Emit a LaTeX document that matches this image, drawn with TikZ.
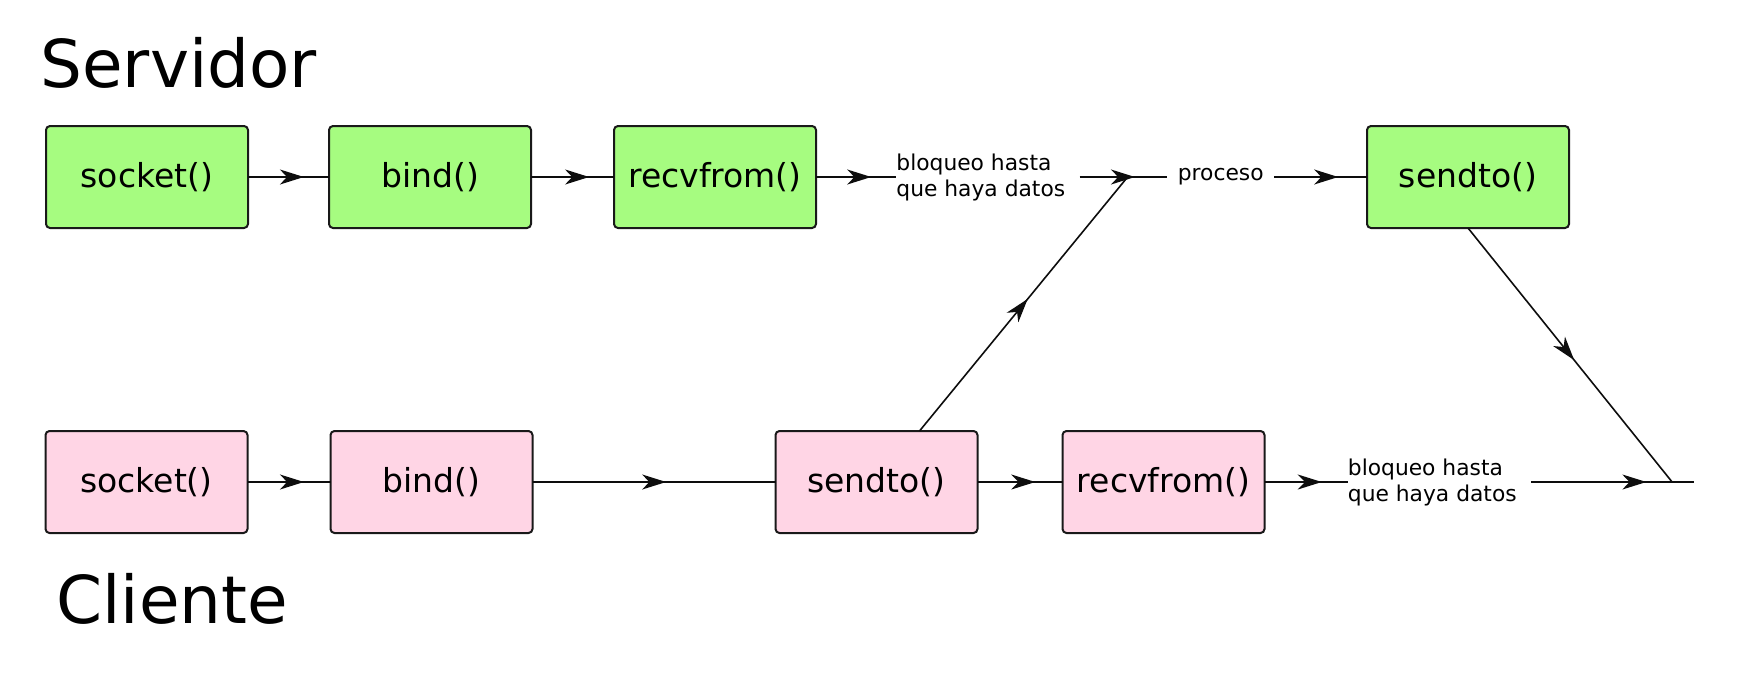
\documentclass[tikz,border=0pt]{standalone}
\usepackage{fontspec}
\setmainfont{DejaVu Sans}
\usetikzlibrary{positioning,arrows.meta,decorations.markings}

\definecolor{srvgreen}{RGB}{166,252,128}
\definecolor{clipink}{RGB}{255,213,229}

\tikzset{
  call/.style={draw=black!90, line width=1pt, rounded corners=2pt,
    minimum width=101pt, minimum height=51pt, inner sep=0pt, outer sep=0pt,
    font=\fontsize{16.5pt}{19pt}\selectfont},
  srv/.style={call, fill=srvgreen},
  cli/.style={call, fill=clipink},
  wait/.style={align=left, inner sep=0pt, font=\fontsize{10.9pt}{13pt}\selectfont},
  side/.style={inner sep=0pt, anchor=base west, font=\fontsize{33pt}{40pt}\selectfont},
  flow/.style={draw=black!95, line width=0.8pt, postaction={decorate},
    decoration={markings, mark=at position #1 with
      {\arrow{Stealth[length=12pt,width=7.5pt,inset=3.6pt]}}}},
  flow/.default=0.69
}

\begin{document}
\begin{tikzpicture}[x=0.5pt, y=-0.5pt]
	  \useasboundingbox (0,0) rectangle (1739,686);
	  \node[side] (srv_lbl) at (40,87) {Servidor} ; %
	  \node[side] (cli_lbl) at (56,623) {Cliente} ; %

	  % servidor
	  \node[srv] (s_sock) at (147,177) {socket()};
	  \node[srv, right=40.5pt of s_sock] (s_bind) {bind()};
	  \node[srv, right=41.5pt of s_bind] (s_recv) {recvfrom()};
	  \node[wait, right=40pt of s_recv] (s_wait) {bloqueo hasta\\que haya datos};
	  \node[srv, right=275.5pt of s_recv] (s_send) {sendto()};
	  \node[wait, inner xsep=5pt, left=46.5pt of s_send] (s_proc) {proceso};
	  \coordinate[right=31pt of s_wait.east] (s_join);

	  % cliente
	  \node[cli] (c_sock) at (146.5,482) {socket()};
	  \node[cli, right=41.5pt of c_sock] (c_bind) {bind()};
	  \node[cli, right=121.5pt of c_bind] (c_send) {sendto()};
	  \node[cli, right=42.5pt of c_send] (c_recv) {recvfrom()};
	  \node[wait, right=41.5pt of c_recv] (c_wait) {bloqueo hasta\\que haya datos};
	  \coordinate[right=77.5pt of c_wait.east] (c_join);
	  \coordinate[right=11pt of c_join] (c_end);

	  \draw[flow] (s_sock) -- (s_bind);
	  \draw[flow=0.7] (s_bind) -- (s_recv);
	  \draw[flow] (s_recv) -- (s_wait);
	  \draw[flow=0.63] ([xshift=7pt]s_wait.east) -- (s_proc);
	  \draw[flow] (s_proc) -- (s_send);

	  \draw[flow=0.68] (c_sock) -- (c_bind);
	  \draw[flow=0.55] (c_bind) -- (c_send);
	  \draw[flow=0.68] (c_send) -- (c_recv);
	  \draw[flow] (c_recv) -- (c_wait);
	  \draw[flow=0.707] ([xshift=7pt]c_wait.east) -- (c_end);

	  \draw[flow=0.52] ([xshift=21.5pt]c_send.north) -- (s_join);
	  \draw[flow=0.52] (s_send.south) -- (c_join);
\end{tikzpicture}
\end{document}
